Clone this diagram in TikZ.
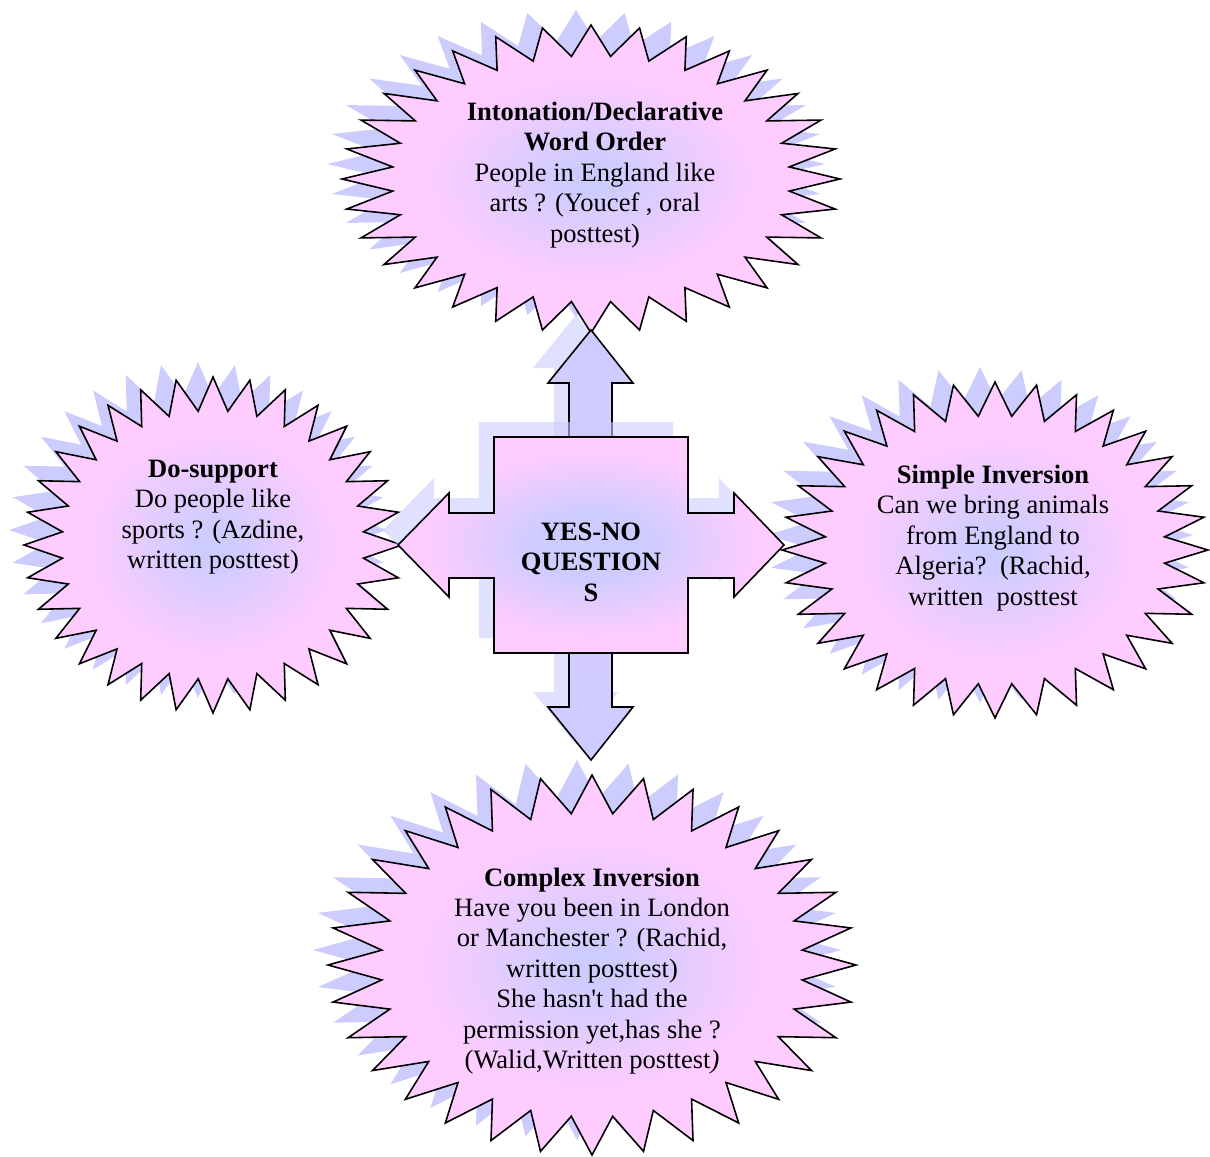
\documentclass[tikz,border=0pt]{standalone}
\usepackage{fontspec}
\setmainfont{Liberation Serif}
\definecolor{lav}{RGB}{204,204,255}
\definecolor{pinkish}{RGB}{255,204,255}
\definecolor{lilac}{RGB}{218,204,255}
\pgfdeclareradialshading{burst}{\pgfpoint{0bp}{0bp}}{color(0bp)=(lav); color(2bp)=(lav); color(17bp)=(pinkish); color(50bp)=(pinkish)}
\pgfdeclareradialshading{quadfill}{\pgfpoint{0bp}{0bp}}{color(0bp)=(lav); color(7bp)=(lav); color(22bp)=(pinkish); color(50bp)=(pinkish)}

\begin{document}
\begin{tikzpicture}[x=0.02cm, y=-0.02cm,
    burststar/.style={draw, line width=0.9pt, shading=burst},
    burstshadow/.style={fill=lav},
    arrowshadow/.style={fill=lav, fill opacity=0.6},
    bursttext/.style={align=center, inner sep=0pt, font=\fontsize{15.1pt}{17.3pt}\selectfont}]

    \useasboundingbox (0,0) rectangle (1210,1156);

    \foreach \cx/\cy/\rx/\ry in {591/179/249/154, 213/545/189/168, 995/550/213/168, 592/965/264/190}
    {
        \fill[burstshadow] plot[variable=\t, samples at={0,...,63}]
            ({\cx-15+\rx*(1-0.2*mod(\t,2))*cos(\t*5.625)}, {\cy-15+\ry*(1-0.2*mod(\t,2))*sin(\t*5.625)}) -- cycle;
        \draw[burststar] plot[variable=\t, samples at={0,...,63}]
            ({\cx+\rx*(1-0.2*mod(\t,2))*cos(\t*5.625)}, {\cy+\ry*(1-0.2*mod(\t,2))*sin(\t*5.625)}) -- cycle;
    }

    \fill[arrowshadow, shift={(-15,-15)}] (591,330) -- (633,383) -- (612,383) -- (612,707) -- (633,707) -- (591,760)
        -- (548,707) -- (569,707) -- (569,383) -- (548,383) -- cycle;
    \draw[line width=0.9pt, top color=lav, bottom color=lav, middle color=lilac]
        (591,330) -- (633,383) -- (612,383) -- (612,707) -- (633,707) -- (591,760)
        -- (548,707) -- (569,707) -- (569,383) -- (548,383) -- cycle;

    \fill[arrowshadow, shift={(-15,-15)}] (398,545) -- (449,493) -- (449,513) -- (494,513) -- (494,437) -- (688,437)
        -- (688,513) -- (734,513) -- (734,493) -- (784,545) -- (734,597) -- (734,578) -- (688,578)
        -- (688,653) -- (494,653) -- (494,578) -- (449,578) -- (449,597) -- cycle;
    \draw[line width=0.9pt, shading=quadfill] (398,545) -- (449,493) -- (449,513) -- (494,513) -- (494,437) -- (688,437)
        -- (688,513) -- (734,513) -- (734,493) -- (784,545) -- (734,597) -- (734,578) -- (688,578)
        -- (688,653) -- (494,653) -- (494,578) -- (449,578) -- (449,597) -- cycle;

    \node (intonation) at (595,175) [bursttext] {\textbf{Intonation/Declarative}\\\textbf{Word Order}\\People in England like\\arts ? (Youcef , oral\\posttest)};
    \node (dosupport) at (213,517) [bursttext] {\textbf{Do-support}\\Do people like\\sports ? (Azdine,\\written posttest)};
    \node (simple) at (993,538) [bursttext] {\textbf{Simple Inversion}\\Can we bring animals\\from England to\\Algeria?\ \ (Rachid,\\written\ \ posttest};
    \node (complex) at (592,971) [bursttext] {\textbf{Complex Inversion}\\Have you been in London\\or Manchester ? (Rachid,\\written posttest)\\She hasn\textquotesingle t had the\\permission yet,has she ?\\(Walid,Written posttest\textit{)}};
    \node (yesno) at (591,562) [bursttext] {\textbf{YES-NO}\\\textbf{QUESTION}\\\textbf{S}};

\end{tikzpicture}
\end{document}
